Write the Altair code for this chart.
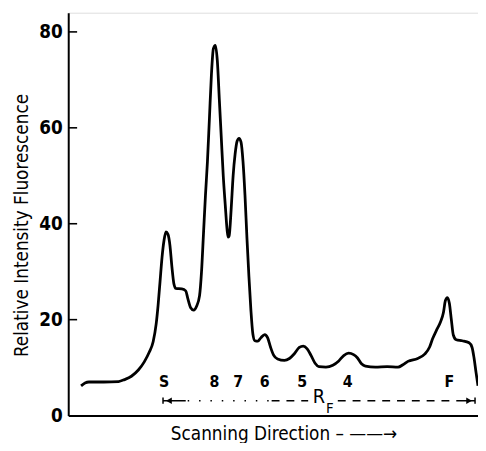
import altair as alt
import pandas as pd

# scanning position (arbitrary units) and relative fluorescence intensity
pos = [12, 16, 20, 35, 50, 56, 63, 70, 76, 81, 85, 88, 90, 92, 94, 96, 98, 100, 102, 104, 106,
       108, 114, 118, 120, 123, 126, 129, 132, 134, 136, 138, 140, 142, 144, 146, 148, 150,
       152, 154, 156, 158, 160, 161, 162, 164, 166, 168, 170, 172, 174, 176, 178, 180, 182,
       184, 186, 188, 191, 194, 198, 201, 204, 207, 211, 218, 223, 228, 233, 237, 241, 245,
       249, 253, 260, 267, 273, 278, 283, 288, 292, 296, 300, 310, 322, 333, 338, 343, 353,
       360, 365, 368, 372, 376, 379, 381, 383, 385, 387, 389, 392, 398, 405, 408, 410, 412, 414]
intensity = [6.2, 6.8, 7.0, 7.0, 7.1, 7.5, 8.2, 9.5, 11.2, 13.2, 15.4, 19.0, 23.0, 28.0, 33.0,
             36.5, 38.3, 37.8, 35.5, 31.0, 27.5, 26.5, 26.4, 26.0, 24.5, 22.5, 22.0, 22.8, 25.0,
             30.0, 38.0, 46.0, 53.0, 62.0, 71.0, 76.5, 77.2, 74.0, 66.0, 58.0, 50.0, 44.0, 38.5,
             37.2, 37.5, 43.0, 50.0, 54.5, 57.2, 57.8, 57.0, 53.0, 46.0, 37.0, 29.0, 22.0, 17.0,
             15.6, 15.5, 16.2, 16.9, 16.2, 14.2, 12.6, 11.8, 11.5, 11.9, 12.9, 14.2, 14.5, 13.9,
             12.5, 10.9, 10.2, 10.1, 10.5, 11.4, 12.5, 13.0, 12.7, 12.0, 10.8, 10.3, 10.1, 10.2,
             10.1, 10.6, 11.3, 11.9, 12.8, 14.3, 16.0, 17.8, 19.5, 21.5, 24.0, 24.6, 23.4, 20.0,
             16.8, 15.8, 15.6, 15.2, 14.2, 12.0, 9.0, 6.2]

peak_labels = ["S", "8", "7", "6", "5", "4", "F"]
peak_pos = [96, 147, 171, 198, 236, 282, 385]
label_level = 7.0

y_ticks = [20, 40, 60, 80]

# R_F arrow segments
seg_start = [95, 120, 205, 272, 392]
seg_end = [118, 202, 242, 392, 411]
seg_style = ["solid", "dotted", "dashed", "dashed", "solid"]
rf_level = 3.1

curve = pd.DataFrame({"pos": pos, "intensity": intensity})
labels = pd.DataFrame({"pos": peak_pos, "label": peak_labels, "y": [label_level] * len(peak_pos)})
ticks = pd.DataFrame({"y": y_ticks, "x0": [-1] * 4, "x1": [8] * 4})
segs = pd.DataFrame({"x0": seg_start, "x1": seg_end, "style": seg_style, "y": [rf_level] * 5})
heads = pd.DataFrame({"pos": [101, 405], "shape": ["triangle-left", "triangle-right"], "y": [rf_level] * 2})
ends = pd.DataFrame({"pos": [95, 411], "y": [rf_level] * 2})
rf = pd.DataFrame({"pos": [253, 264], "t": ["R", "F"], "y": [3.9, 1.6], "size": [20, 15]})

FONT = "DejaVu Sans Condensed, DejaVu Sans, sans-serif"
xs = alt.Scale(domain=[-1, 414], nice=False, zero=False)
ys = alt.Scale(domain=[0, 84], nice=False)

base_x = alt.X("pos:Q", scale=xs,
               axis=alt.Axis(title="Scanning Direction  – ——→", labels=False, ticks=False, grid=False,
                             domainColor="black", domainWidth=2, titleFont=FONT, titleFontSize=19,
                             titleFontWeight="normal", titleColor="black", titlePadding=9, titleX=218))
base_y = alt.Y("intensity:Q", scale=ys,
               axis=alt.Axis(title="Relative Intensity Fluorescence", values=[0, 20, 40, 60, 80],
                             ticks=False, grid=False, domainColor="black", domainWidth=2,
                             labelFont=FONT, labelFontSize=19, labelFontWeight="bold", labelColor="black",
                             labelPadding=6, titleFont=FONT, titleFontSize=19, titleFontWeight="normal",
                             titleColor="black", titlePadding=7, titleY=215))

line = alt.Chart(curve).mark_line(color="black", strokeWidth=2.8, interpolate="monotone").encode(
    x=base_x, y=base_y)

tick_rules = alt.Chart(ticks).mark_rule(color="black", strokeWidth=1.6).encode(
    x=alt.X("x0:Q", scale=xs), x2="x1:Q", y=alt.Y("y:Q", scale=ys))

text = alt.Chart(labels).mark_text(font=FONT, fontSize=16, fontWeight="bold", color="black",
                                   baseline="middle").encode(
    x=alt.X("pos:Q", scale=xs), y=alt.Y("y:Q", scale=ys), text="label:N")

seg_rules = alt.Chart(segs).mark_rule(color="black", strokeWidth=1.6).encode(
    x=alt.X("x0:Q", scale=xs), x2="x1:Q", y=alt.Y("y:Q", scale=ys),
    strokeDash=alt.StrokeDash("style:N", legend=None,
                              scale=alt.Scale(domain=["solid", "dotted", "dashed"],
                                              range=[[1, 0], [1.5, 10], [8, 7]])))

head_pts = alt.Chart(heads).mark_point(filled=True, color="black", size=45, opacity=1).encode(
    x=alt.X("pos:Q", scale=xs), y=alt.Y("y:Q", scale=ys),
    shape=alt.Shape("shape:N", legend=None,
                    scale=alt.Scale(domain=["triangle-left", "triangle-right"],
                                    range=["triangle-left", "triangle-right"])))

end_marks = alt.Chart(ends).mark_point(shape="stroke", color="black", size=40, angle=90,
                                       strokeWidth=1.5, opacity=1).encode(
    x=alt.X("pos:Q", scale=xs), y=alt.Y("y:Q", scale=ys))

rf_text = alt.Chart(rf).mark_text(font=FONT, color="black", baseline="middle").encode(
    x=alt.X("pos:Q", scale=xs), y=alt.Y("y:Q", scale=ys), text="t:N",
    size=alt.Size("size:Q", scale=None, legend=None))

chart = alt.layer(line, tick_rules, text, seg_rules, head_pts, end_marks, rf_text).properties(
    width=415, height=408,
    autosize=alt.AutoSizeParams(type="none"),
    padding={"left": 61, "top": 2, "right": 0, "bottom": 25},
).configure_view(stroke=None).configure(background="white")

chart.save("out.html", embed_options={"renderer": "svg", "actions": False})
